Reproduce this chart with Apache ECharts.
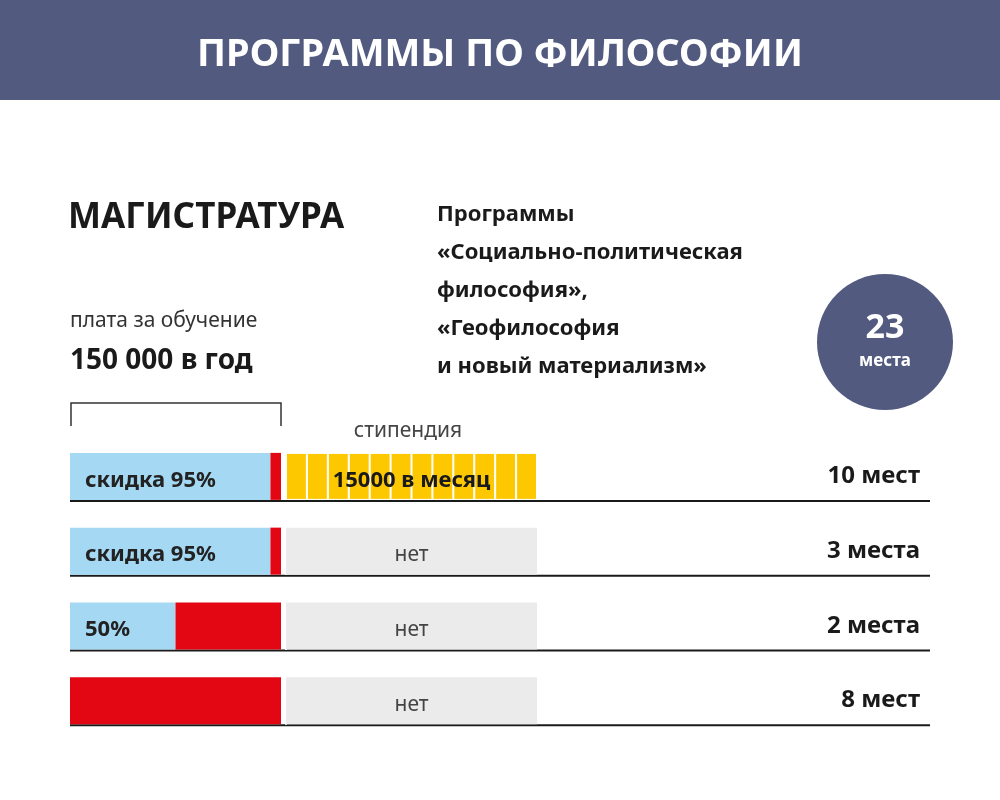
<!DOCTYPE html>
<html><head><meta charset="utf-8">
<script src="https://cdn.jsdelivr.net/npm/echarts@6/dist/echarts.min.js"></script>
<style>body{margin:0;background:#fff}#c{width:1000px;height:800px}</style>
</head><body><div id="c"></div>
<script>
// rows, top to bottom
const rows = ['r1', 'r2', 'r3', 'r4'];
const placeLabels = ['10 мест', '3 места', '2 места', '8 мест'];
const discount = [95, 95, 50, 0];          // % скидки
const paid = [5, 5, 50, 100];              // % оплаты
const stipendMonths = [12, 0, 0, 0];       // месяцев стипендии
const discountLabels = ['скидка 95%', 'скидка 95%', '50%', ''];
const stipendLabels = ['15000 в месяц', 'нет', 'нет', 'нет'];

const FONT = '"Noto Sans", sans-serif';
const PX = 2.11;                 // px per percent of fee
const GAP = 5 / PX;
const MONTH = 251 / 12 / PX;     // width of one month block
const MAXX = 860 / PX;
const STIP = 12 * MONTH;

function txt(id, x, y, text, size, weight, color, align, extra) {
	return { type: 'text', id: id, x: x, y: y, style: Object.assign({ text: text, fill: color, fontFamily: FONT,
		fontSize: size, fontWeight: weight, align: align || 'left', verticalAlign: 'middle' }, extra || {}) };
}

let chart = echarts.init(document.getElementById('c'));

let series = [];
// stack B: yellow month blocks
series.push({ type: 'bar', stack: 'b', barWidth: 47, barGap: '-100%', silent: true,
	itemStyle: { color: 'transparent' }, data: rows.map(() => 100 + GAP) });
for (let m = 0; m < 12; m++) {
	series.push({ type: 'bar', stack: 'b', barWidth: 47, silent: true,
		itemStyle: { color: '#fdc800', borderColor: '#fff', borderWidth: 1 },
		data: stipendMonths.map(v => v > m ? MONTH : 0) });
}
// stack A: fee + stipend background / labels
series.push({ type: 'bar', stack: 'a', barWidth: 47, barGap: '-100%',
	itemStyle: { color: '#a5d8f3' },
	label: { show: true, position: 'insideLeft', offset: [10, 4], color: '#222', fontFamily: FONT,
		fontWeight: 'bold', fontSize: 22, formatter: p => discountLabels[p.dataIndex] },
	data: discount });
series.push({ type: 'bar', stack: 'a', itemStyle: { color: '#e30613' }, data: paid });
series.push({ type: 'bar', stack: 'a', itemStyle: { color: 'transparent' }, data: rows.map(() => GAP) });
series.push({ type: 'bar', stack: 'a',
	label: { show: true, position: 'inside', offset: [0, 4], fontFamily: FONT, fontSize: 21,
		formatter: p => stipendLabels[p.dataIndex] },
	data: stipendMonths.map((v, i) => ({
		value: STIP,
		itemStyle: { color: v > 0 ? 'transparent' : '#ebebeb' },
		label: v > 0 ? { color: '#1a1a1a', fontWeight: 'bold', fontSize: 22 } : { color: '#444', fontWeight: 'normal' }
	})) });

chart.setOption({
	animation: false,
	grid: { left: 70, right: 70, top: 439, height: 299 },
	xAxis: { type: 'value', min: 0, max: MAXX, show: false },
	yAxis: [{ type: 'category', data: rows, inverse: true, show: false },
		{ type: 'category', data: placeLabels, inverse: true, position: 'right',
			axisLine: { show: false }, axisTick: { show: false },
			axisLabel: { inside: true, margin: 10, offset: 0, fontFamily: FONT, fontWeight: 'bold', fontSize: 24, color: '#1a1a1a',
				padding: [6, 0, 0, 0] } }],
	series: series,
	graphic: [
		{ type: 'rect', id: 'hdr', shape: { x: 0, y: 0, width: 1000, height: 100 }, style: { fill: '#525a80' } },
		txt('title', 500, 55, 'ПРОГРАММЫ ПО ФИЛОСОФИИ', 38, 'bold', '#fff', 'center'),
		txt('mag', 68, 218, 'МАГИСТРАТУРА', 35, 'bold', '#1a1a1a'),
		txt('fee', 70, 321, 'плата за обучение', 21, 'normal', '#333'),
		txt('sum', 70, 361, '150 000 в год', 28, 'bold', '#1a1a1a'),
		{ type: 'text', id: 'prog', x: 437, y: 196, style: { text: 'Программы\n«Социально-политическая\nфилософия»,\n«Геофилософия\nи новый материализм»',
			fill: '#1a1a1a', fontFamily: FONT, fontSize: 22, fontWeight: 'bold', lineHeight: 38 } },
		{ type: 'circle', id: 'circ', shape: { cx: 885, cy: 342, r: 68 }, style: { fill: '#525a80' } },
		txt('n23', 885, 328, '23', 34, 'bold', '#fff', 'center'),
		txt('mesta', 885, 361, 'места', 17, 'bold', '#fff', 'center'),
		{ type: 'polyline', id: 'brk', shape: { points: [[71, 426], [71, 403], [281, 403], [281, 426]] }, style: { stroke: '#333', lineWidth: 1.5, fill: null } },
		txt('stip', 408, 431, 'стипендия', 21, 'normal', '#444', 'center')
	]
});

// underline under each row
chart.setOption({ graphic: rows.map((r, i) => {
	let y = chart.convertToPixel({ yAxisIndex: 0 }, r) + 24.5;
	return { type: 'line', id: 'ul' + i, shape: { x1: 70, y1: y, x2: 930, y2: y }, style: { stroke: '#1a1a1a', lineWidth: 2 } };
}) });
</script></body></html>
